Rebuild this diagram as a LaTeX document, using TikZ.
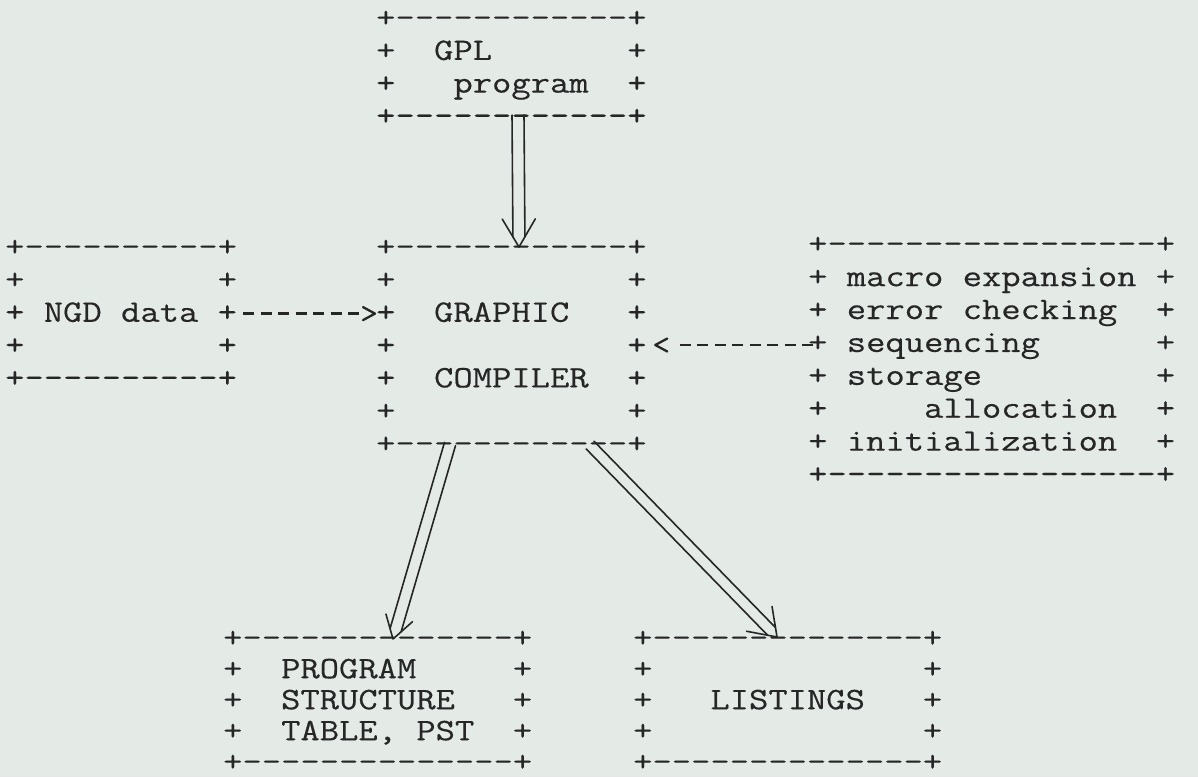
\documentclass[tikz,border=0pt]{standalone}
\usepackage{fontspec}
\setmonofont[FakeStretch=1.2,FakeBold=0.4]{Latin Modern Mono}
\usetikzlibrary{calc}
\definecolor{paper}{RGB}{228,234,230}
\definecolor{ink}{RGB}{38,38,38}
% double-shaft arrow with open head: #1 start, #2 tip, #3 head length, #4 head half-width, #5 shaft half-gap, #6 shaft end before tip
\newcommand\dblarrow[6]{%
  \draw[dblshaft] ($(#1)!#5!90:(#2)$) -- ($(#2)!#6!(#1)!#5!-90:(#1)$);
  \draw[dblshaft] ($(#1)!#5!-90:(#2)$) -- ($(#2)!#6!(#1)!#5!90:(#1)$);
  \draw[dblshaft] ($(#2)!#3!(#1)!#4!90:(#1)$) -- (#2) -- ($(#2)!#3!(#1)!#4!-90:(#1)$);
}
\begin{document}
\begin{tikzpicture}[x=1pt,y=-1pt,
  tbox/.style={text=ink, font=\ttfamily\fontsize{31.25}{#1}\selectfont, align=left, inner sep=0pt, anchor=north west},
  typed/.style={draw=ink, line width=2.6pt, dash pattern=on 11pt off 6.5pt},
  barb/.style={draw=ink, line width=2.3pt, line join=round, line cap=round},
  dblshaft/.style={draw=ink, line width=1.6pt, line cap=round, line join=round}]
\fill[paper] (0,0) rectangle (1198,777);
\useasboundingbox (0,0) rectangle (1198,777);

\node[tbox=32.7] (gpl) at (376,4.1) {\strut+------------+\\
\strut+~~GPL~~~~~~~+\\
\strut+~~~program~~+\\
+------------+};

\node[tbox=32.8] (comp) at (376,233) {\strut+------------+\\
\strut+~~~~~~~~~~~~+\\
\strut+~~GRAPHIC~~~+\\
\strut+~~~~~~~~~~~~+\\
\strut+~~COMPILER~~+\\
\strut+~~~~~~~~~~~~+\\
+------------+};

\node[tbox=32.8] (ngd) at (5,233) {\strut+----------+\\
\strut+~~~~~~~~~~+\\
\strut+~NGD~data~+\\
\strut+~~~~~~~~~~+\\
+----------+};

\node[tbox=32.9] (rbox) at (808,230) {\strut+-----------------+\\
\strut+~macro~expansion~+\\
\strut+~error~checking~~+\\
\strut+~sequencing~~~~~~+\\
\strut+~storage~~~~~~~~~+\\
\strut+~~~~~allocation~~+\\
\strut+~initialization~~+\\
+-----------------+};

\node[tbox=31] (pst) at (223,625.3) {\strut+--------------+\\
\strut+~~PROGRAM~~~~~+\\
\strut+~~STRUCTURE~~~+\\
\strut+~~TABLE,~PST~~+\\
+--------------+};

\node[tbox=31] (lst) at (633,625.3) {\strut+--------------+\\
\strut+~~~~~~~~~~~~~~+\\
\strut+~~~LISTINGS~~~+\\
\strut+~~~~~~~~~~~~~~+\\
+--------------+};

% double arrows
\coordinate (a1) at ($(gpl.north west)+(142,110.9)$);
\coordinate (a2) at ($(comp.north west)+(143,14)$);
\coordinate (b1) at ($(comp.north west)+(74,211)$);
\coordinate (b2) at ($(pst.north west)+(170,13.7)$);
\coordinate (c1) at ($(comp.north west)+(214,212)$);
\coordinate (c2) at ($(lst.north west)+(144,11.7)$);
\dblarrow{a1}{a2}{28pt}{16.5pt}{6pt}{10pt}
\dblarrow{b1}{b2}{22pt}{13.8pt}{5.75pt}{9.2pt}
\dblarrow{c1}{c2}{25.4pt}{17.8pt}{5.5pt}{7.8pt}

% typed arrows
\coordinate (d1) at ($(ngd.north east)+(6,80.6)$);
\coordinate (d2) at ($(comp.north west)+(-1,80.6)$);
\draw[typed, shorten >=12pt] (d1) -- (d2);
\draw[barb] ($(d2)+(-12,-6.5)$) -- (d2) -- ($(d2)+(-12,6.5)$);

\coordinate (e1) at ($(rbox.north west)+(5,115)$);
\coordinate (e2) at ($(comp.north east)+(8.5,112)$);
\draw[typed, shorten >=18pt] (e1) -- (e2);
\draw[barb] ($(e2)+(12,-6.5)$) -- (e2) -- ($(e2)+(12,6.5)$);
\end{tikzpicture}
\end{document}
